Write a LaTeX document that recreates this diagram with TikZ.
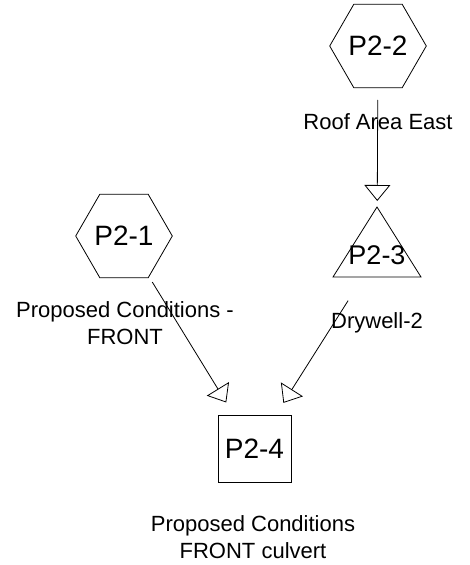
\documentclass[tikz,border=0pt]{standalone}
\usepackage{fontspec}
\setmainfont{Liberation Sans}
\usetikzlibrary{shapes.geometric,arrows.meta}
\begin{document}
\begin{tikzpicture}[x=1pt,y=-1pt,
  every node/.style={inner sep=0pt, outer sep=0pt},
  hexnode/.style={draw, regular polygon, regular polygon sides=6,
    minimum size=89pt, line width=0.8pt, font=\fontsize{28}{30}\selectfont},
  boxnode/.style={draw, rectangle, minimum width=73pt, minimum height=67pt,
    line width=0.8pt, font=\fontsize{28}{30}\selectfont},
  tritext/.style={font=\fontsize{27}{30}\selectfont},
  caption/.style={align=center, font=\fontsize{22}{27}\selectfont},
  flow/.style={line width=0.8pt, shorten <=54pt, shorten >=54pt,
    -{Triangle[open, length=16pt, width=26pt, line width=0.8pt]}}
]
\useasboundingbox (0,0) rectangle (469,565);

% subcatchments
\node[hexnode] (p22) at (378,46) {P2-2};
\node[hexnode] (p21) at (124,236) {P2-1};

% drywell (triangle drawn around its label)
\node[tritext] (p23) at (377,255) {P2-3};
\draw[line width=0.8pt] (377,207) -- (421,277) -- (333,277) -- cycle;

% reach / link
\node[boxnode] (p24) at (254.5,448.5) {P2-4};

% captions
\node[caption] (c22) at (378,122) {Roof Area East};
\node[caption] (c21) at (125,323.5) {Proposed Conditions -\\FRONT};
\node[caption] (c23) at (377,323) {Drywell-2};
\node[caption] (c24) at (253,537) {Proposed Conditions\\FRONT culvert};

% flow connectors
\draw[flow] (p22.center) -- (p23.center);
\draw[flow] (p21.center) -- (p24.center);
\draw[flow] (p23.center) -- (p24.center);
\end{tikzpicture}
\end{document}
